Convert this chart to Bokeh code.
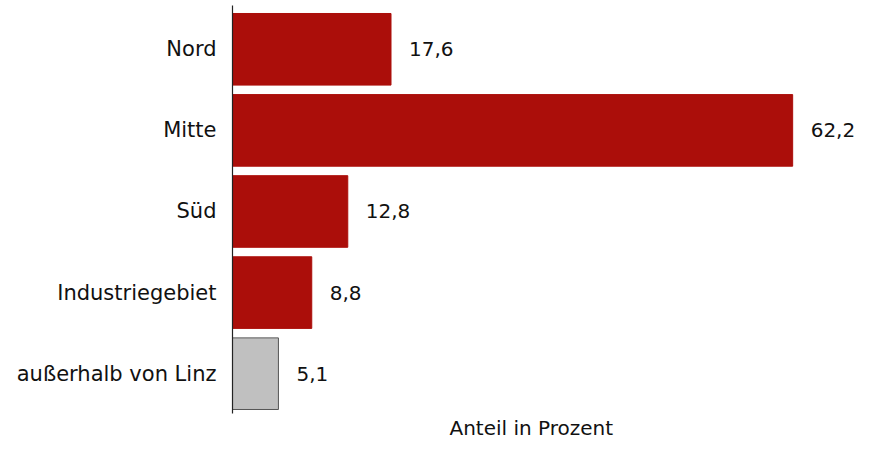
from bokeh.plotting import figure
from bokeh.models import ColumnDataSource, Range1d, FixedTicker, LabelSet, Title
from bokeh.core.properties import value
from bokeh.embed import file_html
from bokeh.resources import INLINE

categories = ["Nord", "Mitte", "Süd", "Industriegebiet", "außerhalb von Linz"]
values = [17.6, 62.2, 12.8, 8.8, 5.1]
labels = ["17,6", "62,2", "12,8", "8,8", "5,1"]
fills = ["#AB0E0A", "#AB0E0A", "#AB0E0A", "#AB0E0A", "#C0C0C0"]
outlines = ["#AB0E0A", "#AB0E0A", "#AB0E0A", "#AB0E0A", "#555555"]
x_title = "Anteil in Prozent"

ypos = list(range(len(categories)))
src = ColumnDataSource(dict(y=ypos, v=values, lab=labels, fill=fills, line=outlines))

FONT = "DejaVu Sans"

p = figure(width=857, height=439, output_backend="svg", toolbar_location=None,
           x_range=Range1d(0, 69.4), y_range=Range1d(4.491, -0.540),
           min_border_top=5, min_border_right=0, min_border_left=232, min_border_bottom=24)
p.outline_line_color = None
p.grid.grid_line_color = None

p.hbar(y="y", right="v", left=0, height=0.883, source=src,
       fill_color="fill", line_color="line", line_width=1)

p.add_layout(LabelSet(x="v", y="y", text="lab", source=src, x_offset=18,
                      text_baseline="middle", text_align="left",
                      text_font=value(FONT), text_font_size="20px", text_color="#111111"))

yax = p.yaxis[0]
yax.ticker = FixedTicker(ticks=ypos)
yax.major_label_overrides = {i: c for i, c in enumerate(categories)}
yax.major_tick_line_color = None
yax.minor_tick_line_color = None
yax.major_tick_out = 0
yax.major_label_standoff = 16
yax.major_label_text_font = FONT
yax.major_label_text_font_size = "21px"
yax.major_label_text_color = "#111111"
yax.axis_line_color = "#222222"
yax.axis_line_width = 1.2

p.xaxis.visible = False

t = Title(text=x_title, align="left", offset=217, standoff=0, vertical_align="bottom",
          text_font=FONT, text_font_size="20px", text_font_style="normal",
          text_color="#111111")
p.add_layout(t, "below")

open("out.html", "w").write(file_html(p, INLINE))
